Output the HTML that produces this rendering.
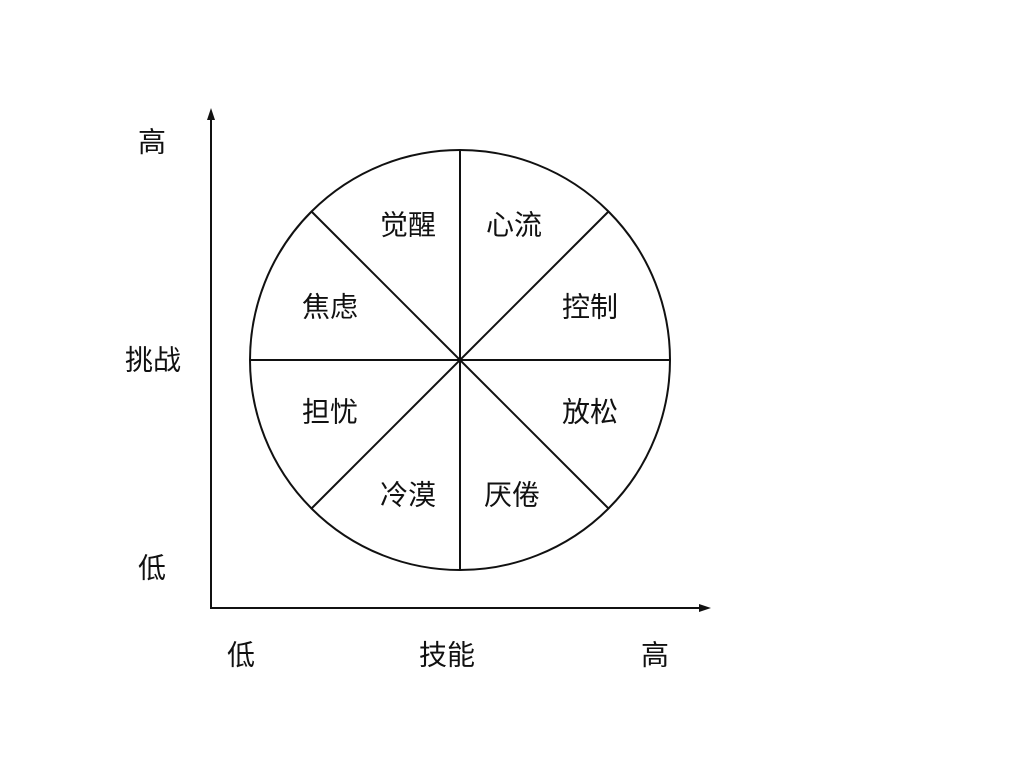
<!DOCTYPE html>
<html><head><meta charset="utf-8"><style>
html,body{margin:0;padding:0;background:#fff;}
svg{display:block}
text{font-family:"Liberation Sans","Noto Sans CJK SC",sans-serif;font-size:28px;fill:#111;text-anchor:middle;dominant-baseline:central}
</style></head><body>
<svg width="1024" height="768" viewBox="0 0 1024 768">
<g stroke="#111" stroke-width="2" fill="none">
<line x1="211" y1="118" x2="211" y2="609"/>
<line x1="210" y1="608" x2="702" y2="608"/>
<circle cx="460" cy="360" r="210"/>
<line x1="460" y1="150" x2="460" y2="570"/>
<line x1="250" y1="360" x2="670" y2="360"/>
<line x1="311.5" y1="211.5" x2="608.5" y2="508.5"/>
<line x1="608.5" y1="211.5" x2="311.5" y2="508.5"/>
</g>
<polygon points="211,108 207,120 215,120" fill="#111"/>
<polygon points="711,608 699,604 699,612" fill="#111"/>
<text x="152" y="142">高</text>
<text x="153" y="360">挑战</text>
<text x="152" y="568">低</text>
<text x="241" y="655">低</text>
<text x="447" y="655">技能</text>
<text x="655" y="655">高</text>
<text x="408" y="225">觉醒</text>
<text x="514" y="225">心流</text>
<text x="330" y="307">焦虑</text>
<text x="590" y="307">控制</text>
<text x="330" y="412">担忧</text>
<text x="590" y="412">放松</text>
<text x="408" y="495">冷漠</text>
<text x="512" y="495">厌倦</text>
</svg>
</body></html>
